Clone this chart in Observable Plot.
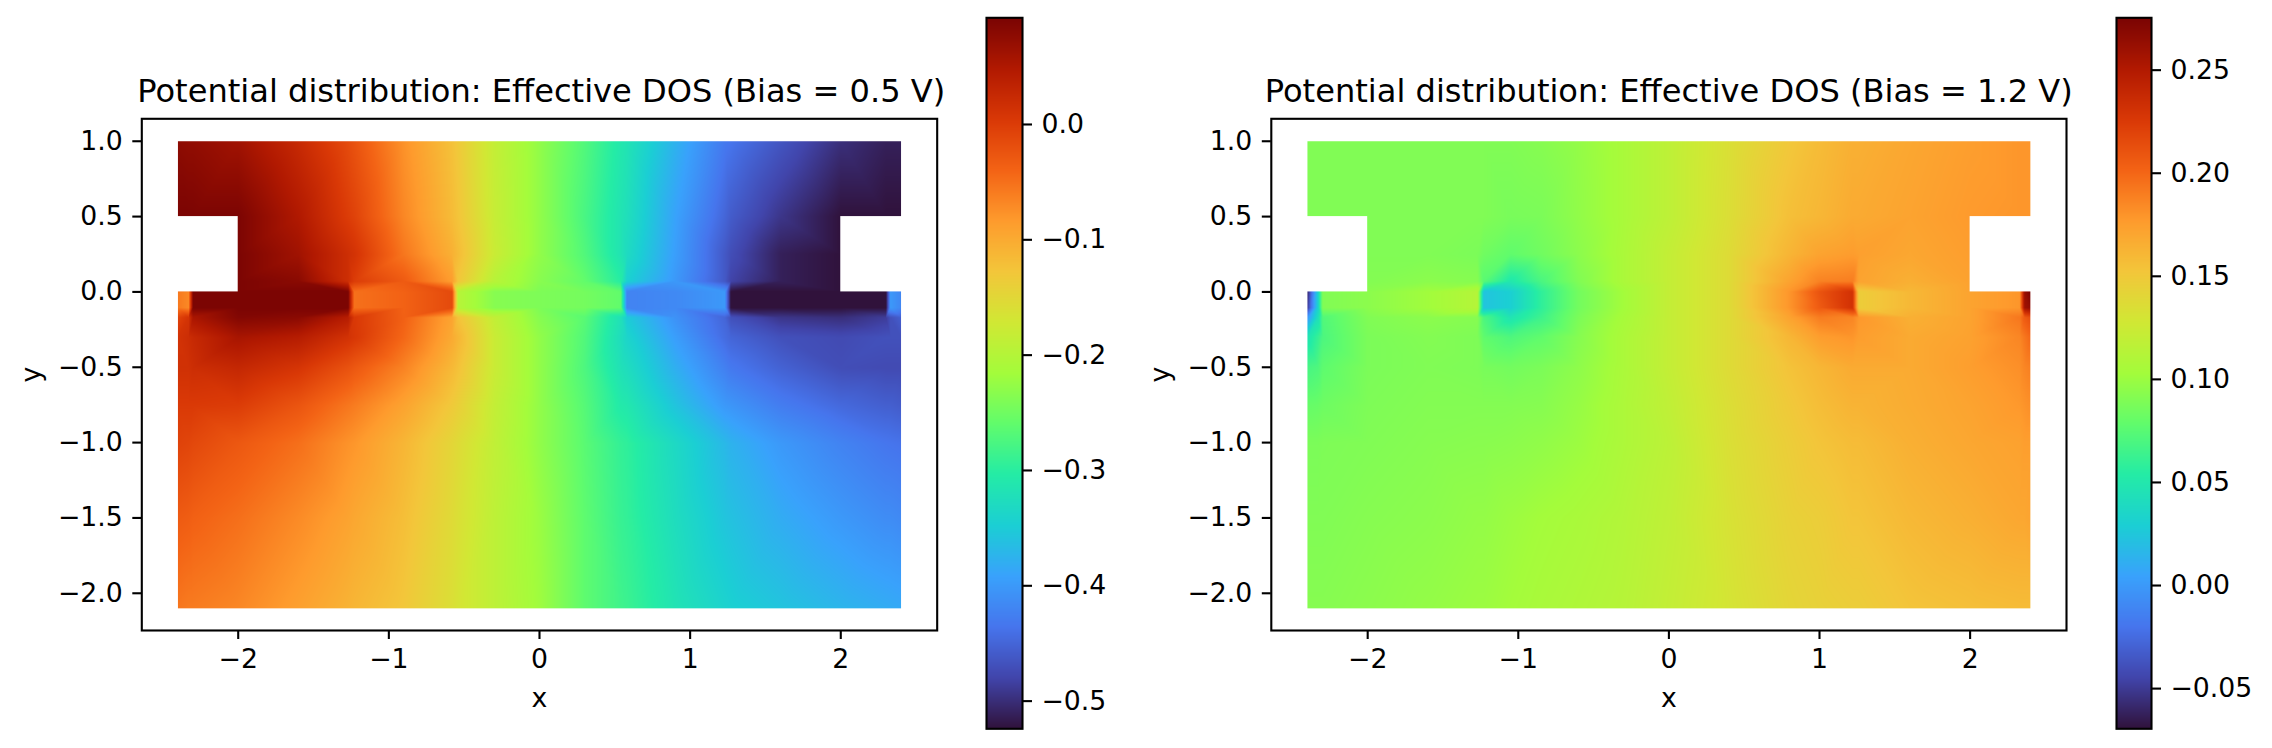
<!DOCTYPE html>
<html>
<head>
<meta charset="utf-8">
<script src="https://cdn.jsdelivr.net/npm/d3@7"></script>
<script src="https://cdn.jsdelivr.net/npm/@observablehq/plot@0.6"></script>
<style>
html,body{margin:0;padding:0;background:#fff;width:2272px;height:748px;overflow:hidden}
#root{position:relative;width:2272px;height:748px}
figure{position:absolute;margin:0;top:0}
figure h2{position:absolute;top:71.7px;margin:0;text-align:center;font:400 32.1px/38px "DejaVu Sans";color:#000;white-space:nowrap}
figure svg,#root>svg{display:block}
</style>
</head>
<body>
<div id="root"></div>
<script>
const turboStops = ["#30123b","#4145ab","#4675ed","#39a2fc","#1bcfd4","#24eca6","#61fc6c","#a4fc3b","#d1e834","#f3c63a","#fe9b2d","#f36315","#d93806","#b11901","#7a0403"];
const xLim = [-2.64, 2.64];
const yLim = [-2.247, 1.149];
const xTicks = [-2, -1, 0, 1, 2];
const yTicks = [1, 0.5, 0, -0.5, -1, -1.5, -2];
const notchX1 = [-2.42, 2];
const notchX2 = [-2, 2.42];
const notchY1 = [0, 0];
const notchY2 = [0.5, 0.5];
const gridY = [1, 0.5, 0.25, 0.07, 0, -0.105, -0.17, -0.3, -0.5, -0.75, -1, -1.5, -2.1];

const leftTitle = "Potential distribution: Effective DOS (Bias = 0.5 V)";
const leftDomain = [-0.524, 0.0925];
const leftBarTicks = [0, -0.1, -0.2, -0.3, -0.4, -0.5];
const leftX = [-2.4,-2.33,-2.3,-2,-1.6,-1.27,-1.23,-0.9,-0.58,-0.54,-0.3,0,0.3,0.54,0.58,0.9,1.23,1.27,1.6,2,2.3,2.33,2.4];
const leftValues = [
[.077,.074,.074,.062,.025,-.015,-.022,-.077,-.123,-.132,-.185,-.228,-.271,-.311,-.317,-.376,-.432,-.436,-.465,-.499,-.512,-.512,-.512],
[.091,.091,.091,.091,.049,.000,-.006,-.068,-.117,-.126,-.182,-.228,-.277,-.317,-.324,-.391,-.450,-.459,-.493,-.524,-.524,-.524,-.524],
[.091,.091,.091,.091,.062,.018,.012,-.055,-.105,-.117,-.179,-.228,-.271,-.317,-.330,-.395,-.462,-.472,-.512,-.524,-.524,-.524,-.524],
[.091,.091,.091,.091,.080,.018,.000,-.031,-.086,-.129,-.197,-.234,-.259,-.302,-.345,-.401,-.462,-.481,-.512,-.524,-.524,-.524,-.524],
[-.057,-.069,.091,.091,.091,.091,-.050,-.038,-.014,-.198,-.235,-.241,-.247,-.260,-.422,-.416,-.401,-.524,-.524,-.524,-.524,-.401,-.419],
[-.057,-.069,.091,.091,.091,.091,-.050,-.038,-.014,-.198,-.235,-.241,-.247,-.260,-.422,-.416,-.401,-.524,-.524,-.524,-.524,-.401,-.419],
[-.007,.011,.054,.085,.079,.042,.005,-.037,-.093,-.124,-.186,-.235,-.266,-.321,-.351,-.407,-.450,-.469,-.493,-.499,-.487,-.469,-.456],
[.012,.019,.025,.056,.043,.012,.006,-.043,-.099,-.111,-.179,-.228,-.271,-.327,-.339,-.395,-.444,-.450,-.469,-.475,-.469,-.469,-.469],
[.015,.015,.019,.028,.009,-.022,-.028,-.065,-.114,-.123,-.179,-.228,-.274,-.321,-.327,-.379,-.425,-.432,-.453,-.472,-.475,-.475,-.475],
[.003,.003,.003,.000,-.025,-.055,-.059,-.092,-.132,-.139,-.185,-.228,-.268,-.308,-.311,-.358,-.401,-.404,-.428,-.447,-.456,-.456,-.459],
[-.006,-.009,-.012,-.028,-.049,-.077,-.080,-.111,-.148,-.154,-.188,-.228,-.265,-.293,-.296,-.333,-.370,-.376,-.401,-.422,-.435,-.436,-.438],
[-.031,-.034,-.037,-.049,-.071,-.092,-.096,-.120,-.154,-.160,-.191,-.222,-.262,-.290,-.293,-.327,-.358,-.361,-.382,-.401,-.413,-.413,-.416],
[-.055,-.059,-.059,-.068,-.089,-.108,-.111,-.129,-.160,-.166,-.191,-.219,-.262,-.284,-.287,-.317,-.342,-.345,-.358,-.373,-.382,-.383,-.385]
];

const rightTitle = "Potential distribution: Effective DOS (Bias = 1.2 V)";
const rightDomain = [-0.0695, 0.2754];
const rightBarTicks = [0.25, 0.2, 0.15, 0.1, 0.05, 0, -0.05];
const rightX = [-2.4,-2.33,-2.3,-2,-1.6,-1.27,-1.23,-1.05,-0.85,-0.6,-0.3,0,0.4,0.8,1,1.22,1.26,1.6,2,2.33,2.36,2.4];
const rightValues = [
[.090,.090,.090,.090,.090,.090,.090,.090,.092,.097,.106,.117,.134,.151,.158,.165,.165,.170,.175,.179,.179,.179],
[.090,.090,.090,.090,.090,.090,.090,.087,.088,.096,.106,.117,.135,.156,.161,.168,.168,.172,.177,.179,.179,.179],
[.090,.090,.090,.090,.090,.088,.084,.078,.084,.094,.107,.120,.137,.162,.172,.176,.174,.170,.175,.179,.179,.179],
[.090,.090,.090,.091,.094,.092,.075,.050,.069,.090,.107,.120,.137,.172,.1875,.190,.172,.165,.173,.179,.179,.179],
[-.061,.033,.090,.094,.102,.112,.023,.030,.058,.085,.103,.120,.137,.179,.210,.231,.147,.160,.172,.179,.262,.2754],
[-.050,.033,.090,.094,.102,.112,.023,.030,.058,.085,.103,.120,.137,.179,.206,.231,.147,.160,.172,.179,.258,.265],
[-.002,.043,.072,.090,.094,.092,.070,.047,.064,.088,.105,.120,.137,.172,.190,.186,.178,.165,.172,.1925,.206,.213],
[.047,.061,.070,.088,.091,.089,.078,.071,.078,.092,.107,.120,.137,.161,.175,.179,.175,.168,.173,.186,.1925,.1994],
[.068,.071,.077,.088,.090,.089,.087,.085,.088,.095,.107,.120,.137,.154,.161,.168,.168,.168,.175,.182,.186,.189],
[.080,.081,.083,.089,.091,.091,.091,.091,.092,.098,.108,.118,.135,.150,.157,.163,.163,.167,.172,.178,.180,.182],
[.088,.088,.089,.090,.092,.093,.093,.094,.096,.100,.108,.116,.134,.147,.153,.158,.158,.165,.170,.173,.175,.175],
[.090,.090,.090,.092,.094,.097,.097,.100,.103,.106,.111,.118,.132,.144,.147,.153,.153,.160,.165,.170,.170,.172],
[.092,.092,.092,.094,.097,.100,.100,.103,.106,.109,.113,.120,.130,.141,.144,.147,.147,.153,.156,.158,.158,.158]
];

const font = {fontFamily: '"DejaVu Sans"', fontSize: "26.7px", color: "#000", background: "#fff", overflow: "visible"};
const notches = notchX1.map((d, i) => ({x1: d, x2: notchX2[i], y1: notchY1[i], y2: notchY2[i]}));

function place(node, left) {
  node.style.position = "absolute";
  node.style.left = left + "px";
  node.style.top = "0px";
  document.getElementById("root").appendChild(node);
}

function panel(title, xs, values, domain, left, marginLeft, frameWidth, titleShift) {
  const cells = gridY.flatMap((y, j) => xs.map((x, i) => ({x, y, v: values[j][i]})));
  const fig = Plot.plot({
    title,
    width: marginLeft + frameWidth + 30,
    height: 748,
    marginLeft, marginRight: 30, marginTop: 118.3, marginBottom: 118,
    style: font,
    x: {domain: xLim},
    y: {domain: yLim},
    color: {type: "linear", domain, range: turboStops, clamp: true},
    marks: [
      Plot.raster(cells, {x: "x", y: "y", fill: "v", interpolate: "barycentric", x1: -2.4, x2: 2.4, y1: -2.1, y2: 1, pixelSize: 1}),
      Plot.rect(notches, {x1: "x1", x2: "x2", y1: "y1", y2: "y2", fill: "#fff"}),
      Plot.frame({stroke: "#000", strokeWidth: 2.1}),
      Plot.axisX({ticks: xTicks, tickFormat: d3.format("d"), tickSize: 9, tickPadding: 10, strokeWidth: 2.1, label: "x", labelAnchor: "center", labelArrow: "none", labelOffset: 76.5}),
      Plot.axisY({ticks: yTicks, tickFormat: d3.format(".1f"), tickSize: 9, tickPadding: 10, strokeWidth: 2.1, label: "y", labelAnchor: "center", labelArrow: "none", labelOffset: 121})
    ]
  });
  const h2 = fig.querySelector("h2");
  h2.style.left = (marginLeft + titleShift) + "px";
  h2.style.width = frameWidth + "px";
  place(fig, left);
}

function colorbar(domain, ticks, fmt, left, barWidth, width) {
  const svg = Plot.plot({
    width, height: 748,
    marginLeft: 10, marginRight: width - 10 - barWidth, marginTop: 17.3, marginBottom: 19.7,
    style: font,
    x: {domain: [0, 1], axis: null},
    y: {domain, axis: null},
    color: {type: "linear", domain, range: turboStops, clamp: true},
    marks: [
      Plot.raster({fill: (x, y) => y, x1: 0, x2: 1, y1: domain[0], y2: domain[1], pixelSize: 1}),
      Plot.frame({stroke: "#000", strokeWidth: 2.1}),
      Plot.axisY({anchor: "right", ticks, tickFormat: d3.format(fmt), tickSize: 9, tickPadding: 10, strokeWidth: 2.1, label: null})
    ]
  });
  place(svg, left);
}

panel(leftTitle, leftX, leftValues, leftDomain, 0, 141.3, 795.4, -4);
colorbar(leftDomain, leftBarTicks, ".1f", 976, 36, 160);
panel(rightTitle, rightX, rightValues, rightDomain, 1136, 134.8, 795.2, -6);
colorbar(rightDomain, rightBarTicks, ".2f", 2106, 35, 166);
</script>
</body>
</html>
